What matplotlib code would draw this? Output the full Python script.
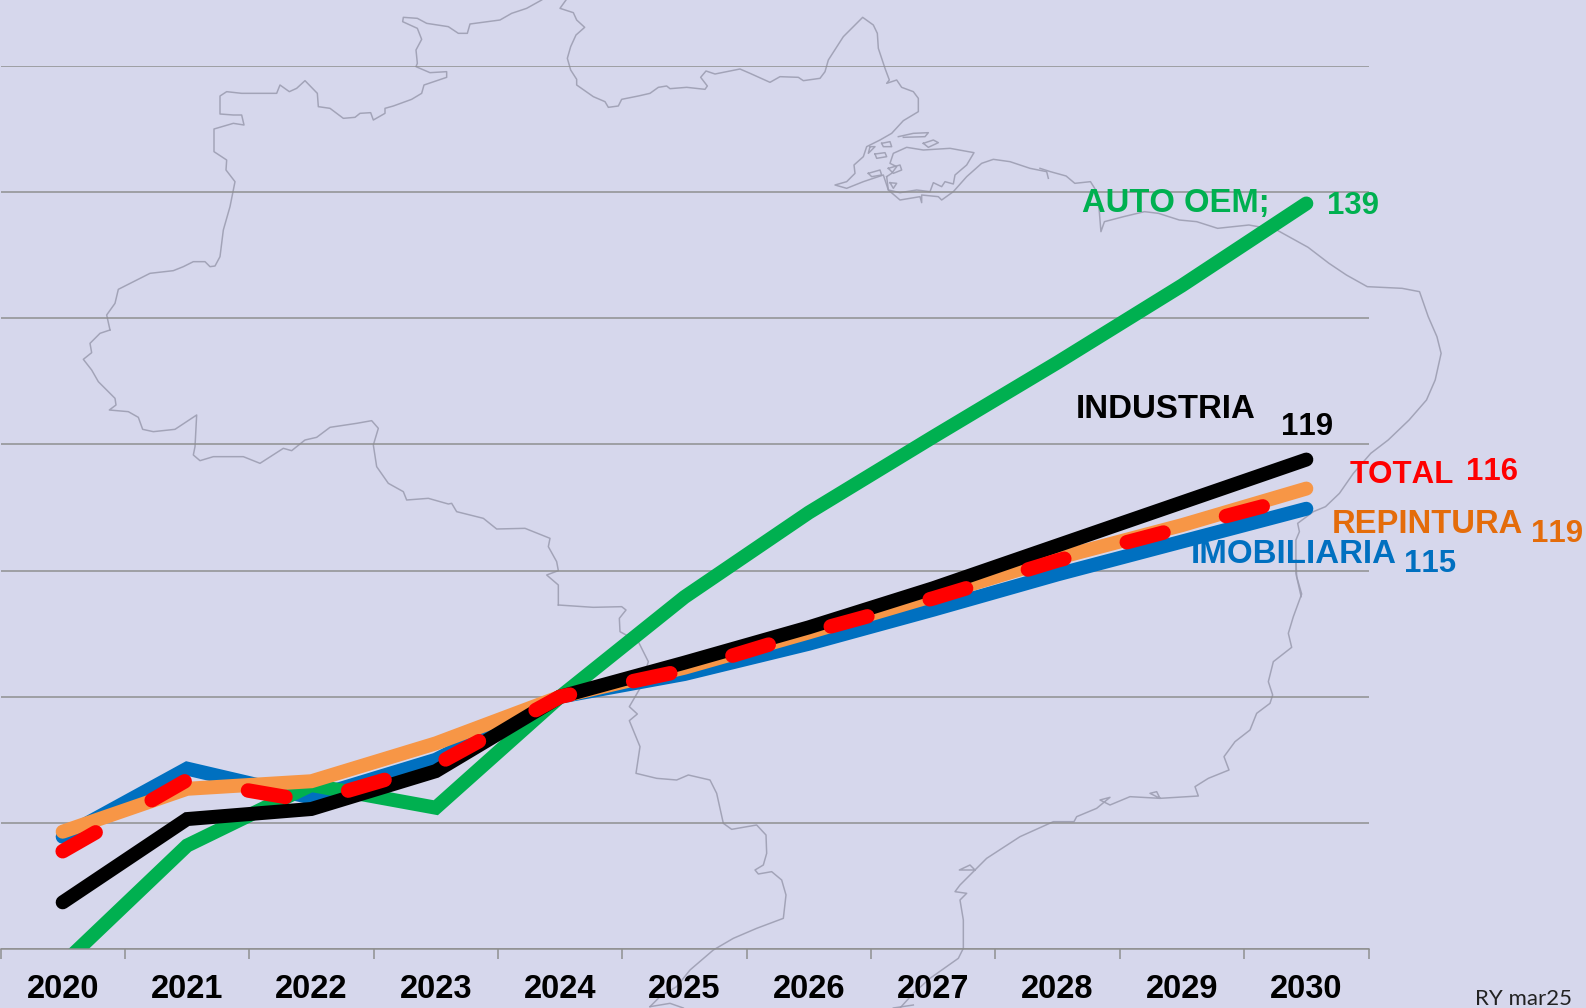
import matplotlib
matplotlib.use("Agg")
import matplotlib.pyplot as plt
from matplotlib.lines import Line2D
from matplotlib.transforms import Affine2D

plt.rcParams['lines.scale_dashes'] = False
plt.rcParams['font.family'] = ['Liberation Sans', 'DejaVu Sans']
plt.rcParams['text.kerning_factor'] = 6

W = 1586
H = 1008
BG = '#D6D7EC'
GRID = '#8E8E8E'
MAP_COLOR = '#9D9EB2'

years = [2020, 2021, 2022, 2023, 2024, 2025, 2026, 2027, 2028, 2029, 2030]
imobiliaria = [88.9, 94.3, 92.0, 95.0, 100, 101.8, 104.2, 106.9, 109.7, 112.3, 114.9]
auto_oem = [78.8, 88.2, 93.0, 91.2, 100, 107.9, 114.6, 120.6, 126.5, 132.6, 139.1]
repintura = [89.3, 92.7, 93.3, 96.3, 100, 102.3, 105.1, 108.0, 111.0, 113.6, 116.5]
industria = [83.7, 90.3, 91.1, 94.1, 100, 102.7, 105.5, 108.6, 112.0, 115.4, 118.8]
total = [87.75, 93.4, 91.7, 94.6, 100, 102.1, 105.1, 107.8, 110.8, 113.4, 116.0]

grid_values = [80, 90, 100, 110, 120, 130, 140, 150]

map_parts = [
    (60, 0, 3, [(1445, 0), (1400, 25), (1355, 40), (1320, 60), (1230, 72), (1222, 100), (1195, 100), (1165, 80),
                (1100, 70), (1072, 55), (1030, 52), (1028, 65), (1072, 85), (1085, 118), (1068, 150), (1072, 190),
                (1068, 200), (1110, 218), (1160, 215), (1160, 232), (1092, 255), (1085, 280), (1055, 298), (1000, 318),
                (975, 325), (975, 340), (940, 360), (932, 338), (900, 340), (885, 352), (850, 355), (810, 325),
                (775, 320), (772, 280), (735, 242), (710, 265), (688, 275), (660, 255), (650, 280), (545, 280),
                (500, 275), (480, 288), (480, 342), (520, 345), (545, 345), (552, 375), (520, 370), (462, 387),
                (462, 455), (500, 480), (498, 510), (525, 545), (510, 620), (490, 690), (480, 770), (465, 798),
                (450, 800), (435, 785), (400, 785), (370, 800), (340, 812), (270, 820), (175, 868), (165, 910),
                (140, 945), (150, 990)]),
    (60, 330, 3, [(150, 0), (120, 10), (90, 40), (95, 68), (70, 88), (95, 120), (115, 155), (165, 205), (168, 225),
                  (148, 240), (205, 245), (235, 262), (248, 298), (280, 305), (345, 298), (410, 255), (405, 350),
                  (400, 375), (420, 392), (460, 380), (550, 380), (600, 400), (670, 355), (695, 362), (735, 330),
                  (770, 322), (810, 292), (890, 280), (935, 272), (955, 295), (940, 345), (950, 410), (985, 460),
                  (1030, 485), (1040, 510), (1105, 505), (1165, 522), (1175, 520), (1190, 545), (1270, 565),
                  (1310, 597), (1395, 595), (1470, 625), (1465, 650), (1490, 695), (1495, 722), (1460, 735),
                  (1495, 765), (1495, 825)]),
    (500, 560, 3, [(175, 135), (280, 142), (365, 140), (378, 150), (358, 175), (360, 215), (415, 245), (445, 305),
                   (420, 385), (388, 440), (412, 462), (388, 482), (420, 560), (408, 640), (470, 655), (530, 660),
                   (565, 645), (630, 660), (650, 700), (670, 790), (695, 808), (770, 795), (798, 825), (800, 880),
                   (790, 915), (765, 930), (775, 942), (815, 935), (845, 960), (858, 1005), (850, 1075), (770, 1105),
                   (700, 1135), (640, 1170), (570, 1230), (530, 1280), (480, 1310), (450, 1340)]),
    (500, 560, 3, [(450, 1340), (510, 1330), (550, 1344)]),
    (550, 0, 3, [(48, 0), (30, 25), (70, 38), (80, 60), (104, 82), (78, 105), (62, 140), (52, 175), (62, 210),
                 (80, 238), (80, 255), (130, 290), (165, 305), (175, 322), (205, 318), (215, 298), (265, 288),
                 (300, 280), (325, 262), (350, 258), (360, 266), (410, 262), (465, 268), (472, 258), (452, 232),
                 (468, 213), (495, 222), (570, 207), (600, 220), (660, 247), (690, 230), (745, 232), (760, 242),
                 (810, 235), (825, 215), (835, 180), (880, 110), (938, 52), (970, 75), (982, 100), (985, 145),
                 (1005, 205), (1018, 240), (1010, 250), (1040, 240), (1055, 262), (1090, 275), (1105, 295),
                 (1105, 335), (1060, 362), (1025, 400), (990, 420), (950, 440), (940, 470), (912, 495), (915, 520),
                 (890, 545), (855, 555), (890, 565), (940, 545), (1000, 525), (1015, 570), (1050, 600), (1110, 590),
                 (1115, 608), (1115, 585), (1165, 590), (1175, 600), (1210, 575), (1250, 530), (1295, 490),
                 (1330, 478), (1380, 485), (1440, 505), (1490, 515), (1495, 535)]),
    (550, 0, 3, [(1010, 530), (1015, 570), (1050, 578), (1100, 570), (1140, 575), (1150, 548), (1175, 560),
                 (1185, 545), (1210, 552), (1215, 525), (1250, 495), (1272, 458), (1200, 445), (1120, 450),
                 (1070, 442), (1030, 460), (1020, 490), (1040, 500), (1025, 520), (1010, 530)]),
    (550, 0, 3, [(1045, 410), (1090, 400), (1135, 398), (1125, 410), (1060, 412)]),
    (550, 0, 3, [(1120, 430), (1150, 420), (1165, 428), (1135, 442), (1120, 430)]),
    (550, 0, 3, [(995, 430), (1020, 425), (1025, 440), (1000, 440), (995, 430)]),
    (550, 0, 3, [(975, 462), (1005, 458), (1010, 470), (980, 475), (975, 462)]),
    (550, 0, 3, [(955, 520), (990, 510), (995, 525), (965, 530), (955, 520)]),
    (550, 0, 3, [(1015, 505), (1050, 495), (1055, 510), (1030, 520), (1015, 505)]),
    (550, 0, 3, [(1020, 548), (1040, 550), (1030, 565), (1020, 548)]),
    (550, 0, 3, [(960, 440), (975, 440), (955, 460), (960, 440)]),
    (1040, 160, 2.872, [(0, 25), (30, 35), (75, 48), (100, 70), (145, 65), (160, 90), (170, 150), (175, 215),
                        (185, 185), (240, 170), (300, 155), (340, 160), (400, 180), (450, 185), (510, 205),
                        (600, 195), (680, 210), (770, 262), (830, 310), (880, 345), (940, 380), (1040, 385),
                        (1090, 395), (1115, 470), (1140, 530), (1152, 580), (1135, 660), (1110, 720), (1060, 780),
                        (1000, 840), (950, 880), (900, 940), (860, 1000), (820, 1040), (785, 1055), (740, 1090),
                        (745, 1115), (735, 1140), (735, 1240), (750, 1310)]),
    (920, 560, 3, [(1128, 0), (1130, 50), (1145, 102), (1120, 170), (1105, 220), (1115, 262), (1060, 305),
                   (1045, 365), (1058, 405), (1050, 430), (1010, 460), (990, 510), (945, 545), (912, 590),
                   (927, 630), (865, 655), (825, 680), (835, 708), (720, 715), (690, 700), (710, 695), (720, 715),
                   (630, 710), (570, 735), (540, 720), (570, 712), (530, 745), (470, 770), (462, 785), (400, 785),
                   (300, 830), (200, 895), (165, 930), (150, 915), (118, 930), (165, 930), (120, 975), (105, 995),
                   (140, 1000), (120, 1020), (130, 1080), (130, 1165), (115, 1195), (30, 1255), (-20, 1300),
                   (-60, 1344)]),
    (920, 560, 3, [(-20, 1335), (-80, 1344)]),
]

# label text, colour, left edge px, baseline px, size
labels = [
    ("AUTO OEM;", '#00B050', 1082, 212, 23.6),
    ("139", '#00B050', 1327, 214, 22.4),
    ("INDUSTRIA", '#000000', 1076, 418, 23.8),
    ("119", '#000000', 1281, 435, 22.4),
    ("TOTAL", '#FF0000', 1350, 483, 22.5),
    ("116", '#FF0000', 1466, 480, 22.4),
    ("REPINTURA", '#E46C0A', 1332, 533, 23.6),
    ("119", '#E46C0A', 1531, 542, 22.4),
    ("IMOBILIARIA", '#0070C0', 1191, 563, 23.8),
    ("115", '#0070C0', 1404, 572, 22.4),
]


def px(value):
    return value * 0.72


fig = plt.figure(figsize=(W / 100, H / 100), dpi=100, facecolor=BG)
# image pixels, y going down
to_px = Affine2D().scale(1, -1).translate(0, H)

ax = fig.add_axes([0.5 / W, (H - 949) / H, 1368 / W, (949 - 66) / H])
ax.patch.set_visible(False)

# map goes under everything
for left, top, sx, pts in map_parts:
    xs = [left + p[0] / sx for p in pts]
    ys = [top + p[1] / 3 for p in pts]
    fig.add_artist(Line2D(xs, ys, transform=to_px, color=MAP_COLOR, lw=px(1.5), zorder=-1, alpha=0.9))

pos = list(range(len(years)))
ax.plot(pos, imobiliaria, color='#0070C0', lw=px(14), solid_capstyle='round', solid_joinstyle='miter')
ax.plot(pos, auto_oem, color='#00B050', lw=px(14), solid_capstyle='round', solid_joinstyle='miter')
ax.plot(pos, repintura, color='#F79646', lw=px(14), solid_capstyle='round', solid_joinstyle='miter')
ax.plot(pos, industria, color='#000000', lw=px(14), solid_capstyle='round', solid_joinstyle='miter')
ax.plot(pos, total, color='#FF0000', lw=px(14.5), dashes=(px(38), px(64.6)), dash_capstyle='round',
        dash_joinstyle='round')

ax.set_xlim(-0.5, 10.5)
ax.set_ylim(80, 150)
ax.set_yticks(grid_values)
ax.tick_params(axis='y', length=0, labelleft=False)
ax.yaxis.grid(True, color=GRID, lw=px(1.5))
ax.set_axisbelow(True)

# ticks between the years, labels centred on the years
ax.set_xticks([p - 0.5 for p in pos] + [10.5])
ax.tick_params(axis='x', which='major', length=px(10), width=px(1.5), color=GRID, labelbottom=False)
ax.set_xticks(pos, minor=True)
ax.set_xticklabels([str(y) for y in years], minor=True, fontsize=23.5, fontweight='bold')
ax.tick_params(axis='x', which='minor', length=0, pad=18)

for name in ['top', 'left', 'right']:
    ax.spines[name].set_visible(False)
ax.spines['bottom'].set_color(GRID)
ax.spines['bottom'].set_linewidth(px(1.5))

for text, color, x, y, size in labels:
    fig.text(x, y, text, transform=to_px, color=color, fontsize=size, fontweight='bold', ha='left', va='baseline')

fig.text(1475, 1005, "RY mar25", transform=to_px, color='#222222', fontsize=16, family=['Lato', 'DejaVu Sans'],
         ha='left', va='baseline')

fig.savefig("out.png", dpi=100, facecolor=BG)
